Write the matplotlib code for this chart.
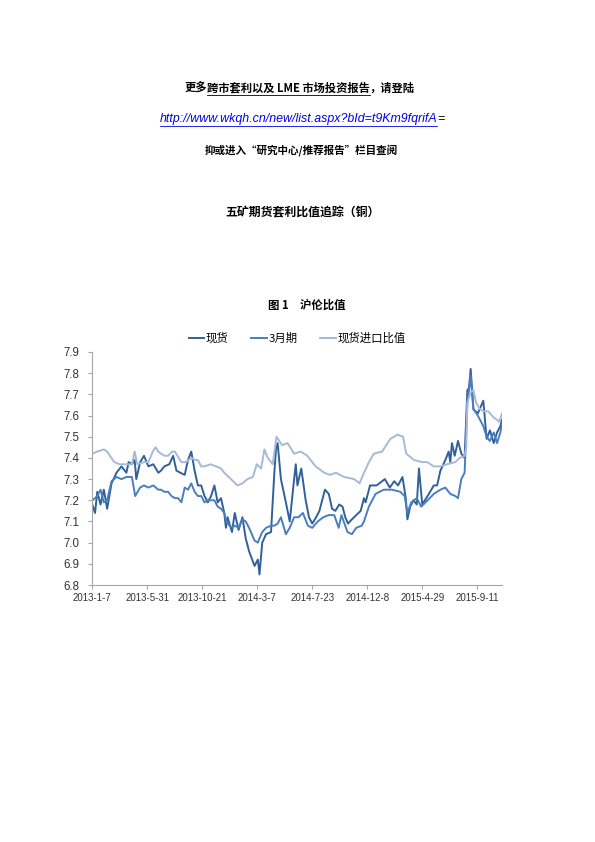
import matplotlib
matplotlib.use("Agg")
import matplotlib.pyplot as plt
from matplotlib.lines import Line2D

CJK = ['Noto Sans CJK SC', 'DejaVu Sans']
LAT = ['Liberation Sans', 'DejaVu Sans']
plt.rcParams['font.family'] = CJK

# ---------------- data (x = trading-day number since 2013-1-7) ----------------
spot_day = [0, 5, 9, 15, 21, 27, 35, 44, 53, 62, 66, 72, 77, 80, 87, 94, 102, 111, 120,
            125, 131, 140, 147, 153, 160, 168, 174, 180, 186, 192, 198, 204, 210, 216, 222, 228, 234, 240, 243,
            246, 254, 259, 266, 273, 279, 285, 295, 301, 304, 309, 316, 325, 331, 334, 337, 343, 352, 359, 367,
            370, 373, 380, 388, 394, 400, 407, 413, 417, 423, 430, 436, 442, 449, 455, 460, 465, 472, 480, 488, 494,
            497, 505, 517, 532, 541, 549, 556, 564, 570, 573, 578, 584, 590, 594, 600, 612, 621,
            627, 633, 642, 648, 651, 654, 659, 665, 671, 677, 682, 685, 688, 693, 701, 711, 717, 723, 730, 736, 742, 745]
spot = [7.18, 7.14, 7.24, 7.18, 7.25, 7.16, 7.28, 7.33, 7.36, 7.33, 7.38, 7.37, 7.39, 7.30, 7.38, 7.41, 7.36, 7.37, 7.33,
        7.34, 7.36, 7.37, 7.41, 7.34, 7.33, 7.32, 7.39, 7.43, 7.34, 7.27, 7.27, 7.22, 7.19, 7.22, 7.27, 7.19, 7.21, 7.14, 7.07,
        7.12, 7.05, 7.14, 7.06, 7.12, 7.02, 6.96, 6.89, 6.92, 6.85, 7.00, 7.04, 7.05, 7.33, 7.44, 7.47, 7.30, 7.19, 7.10, 7.30,
        7.37, 7.27, 7.35, 7.20, 7.12, 7.09, 7.12, 7.15, 7.19, 7.25, 7.23, 7.16, 7.15, 7.18, 7.17, 7.12, 7.09, 7.11, 7.13, 7.15, 7.21,
        7.19, 7.27, 7.27, 7.30, 7.26, 7.29, 7.27, 7.31, 7.21, 7.11, 7.17, 7.20, 7.18, 7.35, 7.18, 7.23, 7.27,
        7.27, 7.34, 7.39, 7.43, 7.38, 7.47, 7.41, 7.48, 7.42, 7.40, 7.72, 7.73, 7.82, 7.63, 7.61, 7.67, 7.49, 7.53, 7.47, 7.52, 7.55, 7.58]

three_month_day = [0, 5, 9, 15, 21, 27, 35, 44, 53, 62, 72, 78, 87, 94, 102, 111, 120,
                   125, 131, 138, 144, 150, 156, 162, 168, 174, 180, 186, 192, 198, 204, 210, 216, 222, 228, 234, 240, 243,
                   246, 254, 259, 266, 273, 279, 285, 295, 301, 304, 309, 316, 325, 331, 337, 343, 352, 359, 367,
                   375, 383, 392, 400, 410, 420, 430, 440, 448, 453, 464, 472, 480, 490, 494,
                   503, 515, 530, 545, 560, 568, 573, 580, 590, 598, 606, 621,
                   633, 642, 651, 660, 665, 671, 677, 682, 685, 688, 693, 701, 711, 717, 723, 730, 736, 742, 745]
three_month = [7.20, 7.21, 7.22, 7.25, 7.19, 7.20, 7.29, 7.31, 7.30, 7.31, 7.31, 7.22, 7.26, 7.27, 7.26, 7.27, 7.25,
               7.25, 7.24, 7.24, 7.22, 7.21, 7.21, 7.19, 7.26, 7.25, 7.28, 7.24, 7.22, 7.22, 7.19, 7.20, 7.20, 7.20, 7.17, 7.16, 7.14, 7.11,
               7.09, 7.07, 7.08, 7.07, 7.11, 7.10, 7.07, 7.01, 7.00, 7.02, 7.05, 7.07, 7.08, 7.08, 7.09, 7.12, 7.04, 7.07, 7.12,
               7.12, 7.14, 7.08, 7.07, 7.10, 7.12, 7.13, 7.13, 7.07, 7.13, 7.05, 7.04, 7.07, 7.08, 7.10,
               7.17, 7.23, 7.25, 7.25, 7.24, 7.22, 7.14, 7.19, 7.21, 7.17, 7.19, 7.23,
               7.25, 7.26, 7.23, 7.22, 7.21, 7.30, 7.33, 7.66, 7.72, 7.79, 7.63, 7.60, 7.55, 7.50, 7.48, 7.52, 7.47, 7.52, 7.56]

import_day = [0, 9, 21, 27, 32, 40, 50, 60, 72, 77, 82, 94, 102, 110, 115, 120,
              125, 131, 138, 145, 150, 155, 162, 170, 180, 187, 192, 198, 204, 215, 225, 234, 240,
              252, 264, 273, 282, 292, 299, 307, 313, 319, 328, 335, 345, 355, 367,
              379, 391, 406, 422, 432, 443, 458, 476, 486, 494,
              503, 512, 527, 542, 555, 565, 571, 585, 600, 609, 621,
              633, 645, 660, 668, 677, 680, 682, 688, 693, 698, 705, 712, 720, 730, 736, 740, 745]
import_ratio = [7.42, 7.43, 7.44, 7.43, 7.41, 7.38, 7.37, 7.37, 7.37, 7.43, 7.37, 7.38, 7.38, 7.43, 7.45, 7.43,
                7.42, 7.41, 7.41, 7.43, 7.43, 7.41, 7.38, 7.38, 7.40, 7.39, 7.39, 7.36, 7.36, 7.37, 7.36, 7.35, 7.33,
                7.30, 7.27, 7.28, 7.30, 7.31, 7.37, 7.35, 7.44, 7.40, 7.37, 7.50, 7.46, 7.47, 7.42,
                7.43, 7.41, 7.36, 7.33, 7.32, 7.33, 7.31, 7.30, 7.28, 7.33,
                7.38, 7.42, 7.43, 7.49, 7.51, 7.50, 7.42, 7.39, 7.38, 7.38, 7.36,
                7.36, 7.37, 7.38, 7.40, 7.41, 7.45, 7.66, 7.71, 7.72, 7.66, 7.63, 7.62, 7.62, 7.59, 7.58, 7.57, 7.61]

series_names = ['现货', '3月期', '现货进口比值']
tick_positions = [0, 100, 200, 300, 400, 500, 600, 700]
tick_labels = ['2013-1-7', '2013-5-31', '2013-10-21', '2014-3-7',
               '2014-7-23', '2014-12-8', '2015-4-29', '2015-9-11']
y_ticks = [6.8, 6.9, 7.0, 7.1, 7.2, 7.3, 7.4, 7.5, 7.6, 7.7, 7.8, 7.9]
last_day = 745

colors = ['#31609A', '#4A7EBE', '#A6B9D8']

# ---------------- figure ----------------
W, H = 595, 842
fig = plt.figure(figsize=(W / 100, H / 100), dpi=100)
fig.patch.set_facecolor('white')


def fx(px):
    return px / W


def fy(py):
    return 1 - py / H


hs = 8.1
p1 = fig.text(0, fy(88), '更多', fontsize=hs, fontweight='bold', va='center', ha='left')
p2 = fig.text(0, fy(88), '跨市套利以及 LME 市场投资报告', fontsize=hs, fontweight='bold', va='center', ha='left')
p3 = fig.text(0, fy(88), '，请登陆', fontsize=hs, fontweight='bold', va='center', ha='left')

url = fig.text(fx(298.5), fy(119), 'http://www.wkqh.cn/new/list.aspx?bId=t9Km9fqrifA',
               fontsize=8.9, family=LAT, style='italic',
               color='#0000EE', va='center', ha='center')
fig.text(fx(301), fy(150), '抑或进入“研究中心/推荐报告”栏目查阅', fontsize=7.6,
         fontweight='bold', va='center', ha='center')
fig.text(fx(302.5), fy(213), '五矿期货套利比值追踪（铜）', fontsize=8.6,
         fontweight='bold', va='center', ha='center')
fig.text(fx(306.5), fy(305), '图 1　沪伦比值', fontsize=8.2,
         fontweight='bold', va='center', ha='center')

# axes
ax = fig.add_axes([fx(92.3), fy(585), fx(502) - fx(92.3), fy(352) - fy(585)])
for xs, vals, name, c in zip([spot_day, three_month_day, import_day],
                             [spot, three_month, import_ratio], series_names, colors):
    ax.plot(xs, vals, color=c, lw=1.4, label=name, solid_joinstyle='round')

ax.set_xlim(0, last_day)
ax.set_ylim(6.8, 7.9)
ax.set_yticks(y_ticks)
ax.set_yticklabels([f'{v:.1f}' for v in y_ticks], fontsize=8.3, family=LAT, color='#333333')
ax.set_xticks(tick_positions)
ax.set_xticklabels(tick_labels, fontsize=7.0, family=LAT, color='#333333')
for s in ['top', 'right']:
    ax.spines[s].set_visible(False)
for s in ['left', 'bottom']:
    ax.spines[s].set_color('#A6A6A6')
    ax.spines[s].set_linewidth(0.8)
ax.tick_params(axis='both', direction='out', length=3, width=0.8, color='#A6A6A6')
ax.tick_params(axis='y', pad=6)
ax.tick_params(axis='x', pad=2.5)

fig.legend(*ax.get_legend_handles_labels(), loc='center', bbox_to_anchor=(fx(297), fy(338)),
           ncol=3, frameon=False, fontsize=8.2, handlelength=1.4, handletextpad=0.1,
           columnspacing=2.0)

# place header line 1 parts and underlines
fig.canvas.draw()
r = fig.canvas.get_renderer()
w1 = p1.get_window_extent(r).width
w2 = p2.get_window_extent(r).width
w3 = p3.get_window_extent(r).width
start = 299.5 - (w1 + w2 + w3) / 2
p1.set_x(fx(start))
p2.set_x(fx(start + w1))
p3.set_x(fx(start + w1 + w2))
fig.canvas.draw()
b2 = p2.get_window_extent(r)
fig.add_artist(Line2D([b2.x0 / W, b2.x1 / W], [fy(95)] * 2, color='black', lw=0.6))
bu = url.get_window_extent(r)
fig.add_artist(Line2D([bu.x0 / W, bu.x1 / W], [fy(126)] * 2, color='#0000EE', lw=0.6))
fig.text(bu.x1 / W, fy(119), '=', fontsize=8.9, family=LAT, style='italic', va='center', ha='left')

fig.savefig('out.png', dpi=100, facecolor='white')
